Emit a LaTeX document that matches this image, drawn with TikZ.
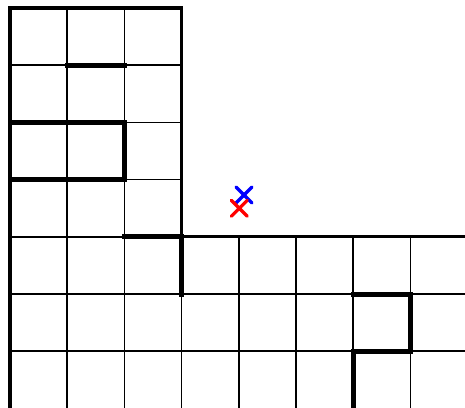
\documentclass[tikz,border=0pt]{standalone}
\begin{document}
\begin{tikzpicture}[x=1pt,y=-1pt,
  thin grid/.style={line width=1.7pt,black},
  border/.style={line width=3.2pt,black,line cap=rect},
  wall/.style={line width=5pt,black,line cap=rect},
  marker/.style={line width=3.2pt,line cap=round}]
\useasboundingbox (0,0) rectangle (465,407);
% upper part thin lines
\foreach \y in {65.2,122.4,179.6} \draw[thin grid] (10,\y) -- (181.6,\y);
\draw[thin grid] (10,236.8) -- (124.4,236.8);
\foreach \x in {67.2,124.4} \draw[thin grid] (\x,8) -- (\x,410);
% lower part thin lines
\foreach \y in {294,351.2} \draw[thin grid] (10,\y) -- (470,\y);
\draw[thin grid] (181.6,294) -- (181.6,410);
\foreach \x in {238.8,296,353.2,410.4} \draw[thin grid] (\x,236.8) -- (\x,410);
% borders
\draw[border] (10,410) -- (10,8) -- (181.6,8) -- (181.6,236.8);
\draw[border] (181.6,236.8) -- (470,236.8);
% walls
\draw[wall] (67.2,65.2) -- (124.4,65.2);
\draw[wall] (10,122.4) -- (124.4,122.4) -- (124.4,179.6) -- (10,179.6);
\draw[wall] (124.4,236.8) -- (181.6,236.8) -- (181.6,294);
\draw[wall] (353.2,294) -- (410.4,294) -- (410.4,351.2) -- (353.2,351.2) -- (353.2,410);
% markers
\coordinate (blue) at (244,195);
\coordinate (red) at (239.3,208.3);
\draw[marker,blue] ([shift={(-8,-8)}]blue) -- ([shift={(8,8)}]blue);
\draw[marker,blue] ([shift={(-8,8)}]blue) -- ([shift={(8,-8)}]blue);
\fill[blue] (blue) circle (2.5pt);
\draw[marker,red] ([shift={(-8,-8)}]red) -- ([shift={(8,8)}]red);
\draw[marker,red] ([shift={(-8,8)}]red) -- ([shift={(8,-8)}]red);
\fill[red] (red) circle (2.5pt);
\end{tikzpicture}
\end{document}
